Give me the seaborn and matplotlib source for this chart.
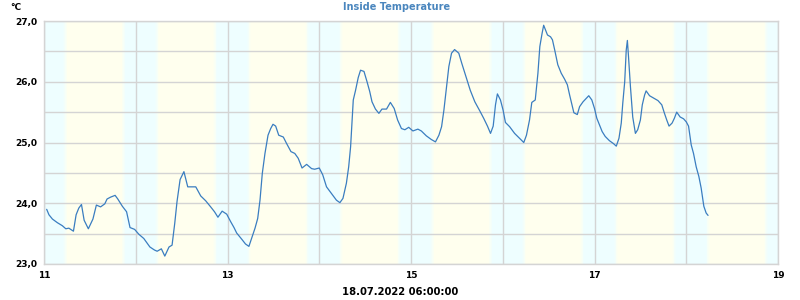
import numpy as np
import pandas as pd
import matplotlib
matplotlib.use("Agg")
import matplotlib.pyplot as plt
import seaborn as sns

# hours since 11.07.2022 00:00
hours = [0.7, 1.3, 2.2, 3.5, 4.8, 5.7, 6.5, 7.7, 8.4, 9.1, 9.8, 10.5, 11.6, 12.8, 13.7,
         14.8, 15.9, 16.5, 17.4, 18.6, 19.3, 20.5, 21.6, 22.5, 23.7, 24.8, 26.1, 27.7,
         28.9, 29.6, 30.7, 31.6, 32.7, 33.5, 34.2, 34.8, 35.6, 36.6, 37.6, 39.7, 41.0,
         42.3, 43.6, 44.6, 45.5, 46.6, 47.8, 48.8, 49.7,
         50.4, 51.7, 52.7, 53.6, 54.3, 55.2, 55.9, 56.5, 57.1, 57.8, 58.6, 59.3, 59.9,
         60.6, 61.4, 62.6, 63.4, 64.6, 65.6, 66.5, 67.5, 68.7, 70.0, 70.8, 72.0, 72.9,
         73.9, 75.2, 76.5, 77.4, 78.2, 79.1, 79.7, 80.2, 80.6, 80.9, 81.5, 82.2, 82.8,
         83.7, 84.5, 85.2, 85.8, 86.7, 87.6, 88.4, 89.6, 90.6, 91.6, 92.5, 93.5, 94.4,
         95.4, 96.5,
         97.8, 98.7, 100.0, 101.3, 102.4, 103.3, 104.0, 104.6, 105.3, 105.9, 106.6,
         107.4, 108.5, 109.3, 110.5, 111.5, 112.7, 114.0, 115.0, 116.0, 116.8, 117.5,
         118.1, 118.6, 119.4, 120.1, 120.7, 121.8, 123.1, 124.4, 125.5, 126.2, 127.0,
         127.6, 128.5, 129.2, 129.7, 130.3, 130.7, 131.7, 132.5,
         133.0, 133.6, 134.4, 135.3, 136.2, 136.9, 137.5, 138.1, 138.6, 139.5, 140.1,
         141.0, 141.9, 142.5, 143.3, 144.0, 144.6, 145.3, 146.0, 146.8, 147.9, 149.0,
         149.7, 150.4, 151.0, 151.4, 151.9, 152.3, 152.6, 152.9, 153.4, 154.0, 154.7,
         155.3, 156.0, 156.5, 157.1, 157.5, 158.4, 159.5, 160.6, 161.6, 162.3, 162.9,
         163.5, 164.3, 164.9, 165.5, 166.4, 167.3, 168.0, 168.6, 169.3, 169.9, 170.6,
         171.3, 171.9, 172.6, 173.2, 173.7]

temps = [23.90, 23.81, 23.74, 23.68, 23.63, 23.58, 23.59, 23.54, 23.81, 23.92, 23.98,
         23.72, 23.58, 23.74, 23.97, 23.94, 23.99, 24.07, 24.10, 24.13, 24.07, 23.95,
         23.86, 23.60, 23.57, 23.49, 23.42, 23.28, 23.23, 23.21, 23.25, 23.13, 23.28,
         23.31, 23.67, 24.03, 24.39, 24.52, 24.27, 24.27, 24.12, 24.04, 23.94, 23.86,
         23.77, 23.87, 23.82, 23.70, 23.60,
         23.51, 23.41, 23.33, 23.29, 23.42, 23.59, 23.75, 24.05, 24.49, 24.82, 25.12,
         25.23, 25.30, 25.27, 25.12, 25.09, 24.99, 24.85, 24.82, 24.74, 24.58, 24.64,
         24.57, 24.56, 24.58, 24.47, 24.27, 24.16, 24.05, 24.01, 24.08, 24.33, 24.60,
         24.93, 25.37, 25.70, 25.86, 26.07, 26.19, 26.17, 26.00, 25.84, 25.67, 25.55,
         25.48, 25.55, 25.55, 25.66, 25.56, 25.37, 25.23, 25.21, 25.25, 25.19,
         25.22, 25.19, 25.11, 25.05, 25.01, 25.12, 25.26, 25.53, 25.92, 26.25, 26.47,
         26.53, 26.47, 26.30, 26.06, 25.86, 25.67, 25.52, 25.40, 25.27, 25.15, 25.27,
         25.62, 25.80, 25.70, 25.53, 25.33, 25.26, 25.15, 25.07, 25.00, 25.12, 25.37,
         25.66, 25.70, 26.14, 26.58, 26.80, 26.93, 26.77, 26.74,
         26.69, 26.52, 26.28, 26.14, 26.04, 25.95, 25.78, 25.62, 25.49, 25.46, 25.59,
         25.67, 25.73, 25.77, 25.70, 25.56, 25.40, 25.29, 25.18, 25.10, 25.03, 24.98,
         24.94, 25.07, 25.32, 25.65, 26.00, 26.52, 26.68, 26.41, 25.92, 25.42, 25.15,
         25.21, 25.37, 25.62, 25.78, 25.85, 25.77, 25.73, 25.69, 25.62, 25.48, 25.37,
         25.27, 25.32, 25.40, 25.50, 25.42, 25.39, 25.34, 25.27, 24.96, 24.82, 24.60,
         24.44, 24.25, 23.95, 23.84, 23.80]

day_labels = ["11", "", "13", "", "15", "", "17", "", "19"]
sunrise_h = 5.6
sunset_h = 20.8
title = "Inside Temperature"
unit = "°C"
bottom_label = "18.07.2022 06:00:00"

df = pd.DataFrame({"hours": hours, "temp": temps})

sns.set_theme(style="white")
plt.rcParams['font.family'] = ['DejaVu Sans']

fig = plt.figure(figsize=(8, 3), dpi=100)
ax = fig.add_axes([44 / 800, 1 - 264 / 300, (778 - 44) / 800, (264 - 21) / 300])

night = np.array([238, 254, 255]) / 255
daycol = np.array([255, 255, 238]) / 255


def blend_spans(center, c_from, c_to, width=1.0, steps=5):
    edges = np.linspace(center - width / 2, center + width / 2, steps + 1)
    for i in range(steps):
        t = (i + 0.5) / steps
        col = c_from * (1 - t) + c_to * t
        ax.axvspan(edges[i], edges[i + 1], color=col, lw=0, zorder=0)


for d in range(8):
    base = d * 24
    ax.axvspan(base, base + sunrise_h - 0.5, color=night, lw=0, zorder=0)
    blend_spans(base + sunrise_h, night, daycol)
    ax.axvspan(base + sunrise_h + 0.5, base + sunset_h - 0.5, color=daycol, lw=0, zorder=0)
    blend_spans(base + sunset_h, daycol, night)
    ax.axvspan(base + sunset_h + 0.5, base + 24, color=night, lw=0, zorder=0)

sns.lineplot(data=df, x="hours", y="temp", ax=ax, color="#3a7dc0", linewidth=0.9, zorder=3)

ax.set_xlim(0, 192)
ax.set_ylim(23.0, 27.0)
ax.set_xticks(np.arange(0, 193, 24))
ax.set_xticklabels(day_labels)
yt = np.arange(23.0, 27.01, 0.5)
ax.set_yticks(yt)
ax.set_yticklabels([f"{v:.1f}".replace(".", ",") if abs(v - round(v)) < 1e-6 else "" for v in yt])
ax.grid(True, color="#d4d4d4", linewidth=1.0, zorder=1)
ax.set_axisbelow(True)
for s in ax.spines.values():
    s.set_color("#d4d4d4")
    s.set_linewidth(1.0)
ax.tick_params(axis="both", length=0, labelsize=6.5, colors="black", pad=5)
for lab in ax.get_xticklabels() + ax.get_yticklabels():
    lab.set_fontweight("bold")
ax.set_xlabel("")
ax.set_ylabel("")

fig.text(397 / 800, 1 - 7 / 300, title, ha="center", va="center", fontsize=7,
         fontweight="bold", color="#4a86be")
fig.text(10 / 800, 1 - 7.5 / 300, unit, ha="left", va="center", fontsize=6.5,
         fontweight="bold", color="black")
fig.text(400 / 800, 1 - 292 / 300, bottom_label, ha="center", va="center", fontsize=7.2,
         fontweight="bold", color="black")

fig.savefig("out.png", dpi=100)
